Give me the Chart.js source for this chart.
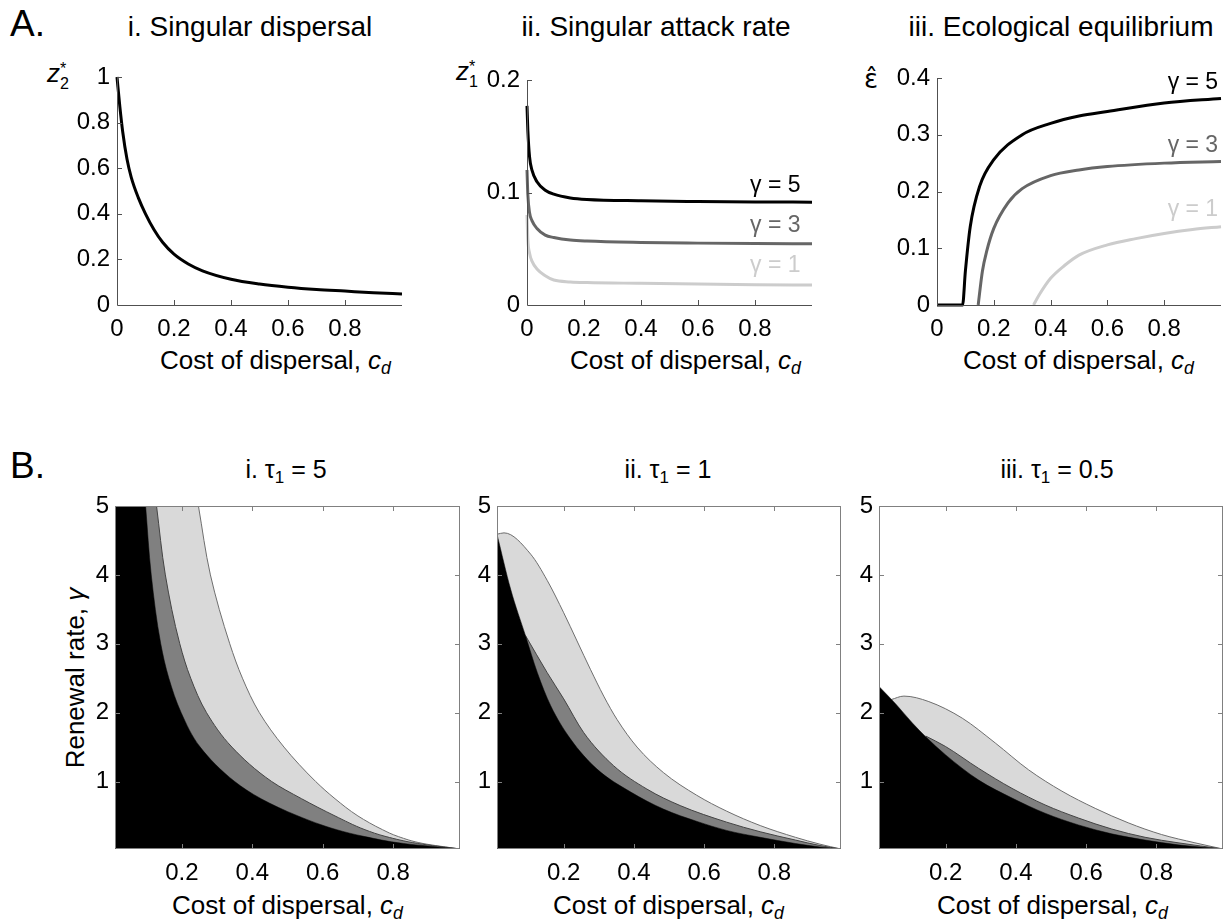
<!DOCTYPE html>
<html>
<head>
<meta charset="utf-8">
<script src="https://cdn.jsdelivr.net/npm/chart.js@4.4.0/dist/chart.umd.min.js"></script>
<style>
    body { margin: 0; width: 1225px; height: 923px; overflow: hidden; position: relative; background: #fff; font-family: "Liberation Sans", Arial, sans-serif; color: #000; }
    canvas { position: absolute; }
    .txt { position: absolute; white-space: nowrap; line-height: 1; }
    .big { font-size: 37px; }
    .titA { font-size: 28px; transform: translateX(-50%); }
    .titB { font-size: 25px; transform: translateX(-50%); }
    .xlab { font-size: 26px; }
    .ylab { font-size: 26px; }
    .sub { font-size: 0.68em; position: relative; top: 0.3em; }
    .stack { display: inline-block; font-size: 0.62em; font-style: normal; line-height: 0.95; vertical-align: -0.45em; }
    .stack span { display: block; }
</style>
</head>
<body>

<div class="txt big" style="left:10px;top:5px">A.</div>
<div class="txt big" style="left:10px;top:447px">B.</div>

<div class="txt titA" style="left:250px;top:13px">i. Singular dispersal</div>
<div class="txt titA" style="left:656px;top:13px">ii. Singular attack rate</div>
<div class="txt titA" style="left:1061px;top:13px">iii. Ecological equilibrium</div>

<div class="txt titB" style="left:286px;top:457px">i. τ<span class="sub">1</span> = 5</div>
<div class="txt titB" style="left:668px;top:457px">ii. τ<span class="sub">1</span> = 1</div>
<div class="txt titB" style="left:1057px;top:457px">iii. τ<span class="sub">1</span> = 0.5</div>

<div class="txt ylab" style="left:47px;top:60px"><i>z</i><span class="stack"><span>*</span><span>2</span></span></div>
<div class="txt ylab" style="left:456px;top:58px"><i>z</i><span class="stack"><span>*</span><span>1</span></span></div>
<div class="txt ylab" style="left:864px;top:66px;font-family:'DejaVu Sans'">ε̂</div>

<div class="txt xlab" style="left:160px;top:347px">Cost of dispersal, <i>c</i><i class="sub">d</i></div>
<div class="txt xlab" style="left:570px;top:347px">Cost of dispersal, <i>c</i><i class="sub">d</i></div>
<div class="txt xlab" style="left:963px;top:347px">Cost of dispersal, <i>c</i><i class="sub">d</i></div>
<div class="txt xlab" style="left:172px;top:892px">Cost of dispersal, <i>c</i><i class="sub">d</i></div>
<div class="txt xlab" style="left:553px;top:892px">Cost of dispersal, <i>c</i><i class="sub">d</i></div>
<div class="txt xlab" style="left:937px;top:892px">Cost of dispersal, <i>c</i><i class="sub">d</i></div>

<div class="txt ylab" style="left:75px;top:678px;transform:translate(-50%,-50%) rotate(-90deg)">Renewal rate, <i>γ</i></div>

<canvas id="a1"></canvas>
<canvas id="a2"></canvas>
<canvas id="a3"></canvas>
<canvas id="b1"></canvas>
<canvas id="b2"></canvas>
<canvas id="b3"></canvas>

<script>
// A.i singular dispersal z2* against cost of dispersal
const cdA1 = [0, 0.01, 0.02, 0.035, 0.05, 0.075, 0.1, 0.13, 0.16, 0.2, 0.25, 0.3, 0.4, 0.5, 0.6, 0.7, 0.8, 0.9, 1];
const z2 = [1, 0.87, 0.76, 0.64, 0.56, 0.47, 0.4, 0.33, 0.275, 0.223, 0.18, 0.15, 0.113, 0.092, 0.078, 0.068, 0.061, 0.054, 0.048];

// A.ii singular attack rate z1*
const cdA2 = [0, 0.003, 0.009, 0.0174, 0.035, 0.064, 0.094, 0.152, 0.21, 0.4, 0.6, 0.8, 1];
const z1g5 = [0.177, 0.155, 0.1316, 0.1198, 0.1095, 0.102, 0.0985, 0.0952, 0.0938, 0.0926, 0.092, 0.0916, 0.0914];
const z1g3 = [0.12, 0.098, 0.082, 0.075, 0.068, 0.0621, 0.06, 0.0577, 0.0568, 0.0556, 0.055, 0.0546, 0.0544];
const z1g1 = [0.08, 0.058, 0.046, 0.039, 0.032, 0.026, 0.0222, 0.0205, 0.0199, 0.0193, 0.0187, 0.0181, 0.0177];

// A.iii ecological equilibrium (only gamma = 5 is drawn along zero)
const cdA3g5 = [0, 0.09, 0.1, 0.117, 0.15, 0.2, 0.3, 0.4, 0.5, 0.6, 0.8, 1];
const epsG5 = [0, 0, 0.06, 0.138, 0.209, 0.256, 0.3, 0.32, 0.333, 0.341, 0.356, 0.364];
const cdA3g3 = [0.145, 0.16, 0.175, 0.2, 0.25, 0.3, 0.4, 0.5, 0.6, 0.8, 1];
const epsG3 = [0, 0.06, 0.095, 0.135, 0.18, 0.205, 0.228, 0.238, 0.244, 0.25, 0.253];
const cdA3g1 = [0.34, 0.36, 0.4, 0.45, 0.5, 0.6, 0.7, 0.8, 0.9, 1];
const epsG1 = [0, 0.018, 0.047, 0.07, 0.088, 0.106, 0.117, 0.126, 0.133, 0.138];

const gammaNames = ['γ = 5', 'γ = 3', 'γ = 1'];
const gammaColors = ['#000000', '#666666', '#cccccc'];
const tagYA2 = [0.1005, 0.065, 0.0295];
const tagYA3 = [0.38, 0.27, 0.157];

// B.i tau1 = 5, boundaries read as cost at each renewal rate
const gammaB1 = [5, 4, 3, 2.5, 2, 1.5, 1, 0.75, 0.5, 0.3, 0.2, 0.1, 0.02];
const cdB1black = [0.097, 0.113, 0.14, 0.163, 0.198, 0.252, 0.35, 0.425, 0.53, 0.64, 0.72, 0.83, 0.99];
const cdB1dark = [0.128, 0.153, 0.194, 0.225, 0.27, 0.342, 0.455, 0.54, 0.635, 0.72, 0.78, 0.87, 0.99];
const cdB1light = [0.247, 0.281, 0.336, 0.372, 0.42, 0.49, 0.58, 0.635, 0.7, 0.77, 0.815, 0.885, 0.99];

// B.ii tau1 = 1
const cdB2black = [0.01, 0.049, 0.091, 0.125, 0.163, 0.219, 0.295, 0.39, 0.484, 0.58, 0.664, 0.76, 0.86, 0.93, 0.99];
const gB2black = [4.59, 3.79, 3.12, 2.58, 2.1, 1.62, 1.18, 0.85, 0.6, 0.42, 0.29, 0.19, 0.1, 0.05, 0.02];
const cdB2dark = [0.091, 0.153, 0.2, 0.257, 0.342, 0.437, 0.532, 0.664, 0.76, 0.86, 0.93, 0.99];
const gB2dark = [3.12, 2.58, 2.2, 1.71, 1.23, 0.89, 0.65, 0.41, 0.27, 0.15, 0.07, 0.02];
const cdB2light = [0.01, 0.03, 0.106, 0.153, 0.2, 0.238, 0.276, 0.314, 0.352, 0.409, 0.484, 0.579, 0.664, 0.76, 0.86, 0.93, 0.99];
const gB2light = [4.59, 4.61, 4.3, 3.92, 3.45, 3.04, 2.63, 2.24, 1.9, 1.5, 1.13, 0.8, 0.57, 0.36, 0.19, 0.09, 0.02];

// B.iii tau1 = 0.5
const cdB3black = [0.01, 0.057, 0.105, 0.143, 0.199, 0.294, 0.389, 0.483, 0.578, 0.673, 0.768, 0.862, 0.99];
const gB3black = [2.38, 2.13, 1.85, 1.65, 1.39, 1.02, 0.76, 0.54, 0.37, 0.24, 0.15, 0.08, 0.02];
const cdB3dark = [0.143, 0.199, 0.294, 0.389, 0.483, 0.578, 0.673, 0.768, 0.862, 0.99];
const gB3dark = [1.66, 1.51, 1.19, 0.9, 0.66, 0.47, 0.31, 0.19, 0.11, 0.02];
const cdB3light = [0.045, 0.081, 0.152, 0.247, 0.341, 0.436, 0.531, 0.626, 0.72, 0.815, 0.91, 0.99];
const gB3light = [2.19, 2.24, 2.16, 1.92, 1.56, 1.17, 0.86, 0.61, 0.4, 0.23, 0.11, 0.02];

// tick labels
const ticksCdA = [0, 0.2, 0.4, 0.6, 0.8];
const ticksZ2 = [0, 0.2, 0.4, 0.6, 0.8, 1];
const ticksZ1 = [0, 0.1, 0.2];
const ticksEps = [0, 0.1, 0.2, 0.3, 0.4];
const ticksCdB = [0.2, 0.4, 0.6, 0.8];
const ticksGamma = [1, 2, 3, 4, 5];

const pts = (xs, ys) => xs.map((x, i) => ({ x: x, y: ys[i] }));
const fmt = v => String(Math.round(v * 100) / 100);

// axes drawn by hand: ticks point inside the plot
const framePlugin = {
    id: 'frame',
    afterDatasetsDraw(chart) {
        const { ctx, chartArea: a, scales } = chart;
        const box = chart.options.plugins.frame.box;
        const L = 5;
        ctx.save();
        ctx.strokeStyle = box ? '#808080' : '#505050';
        ctx.lineWidth = 1;
        ctx.beginPath();
        if (box) {
            ctx.rect(Math.round(a.left) + 0.5, Math.round(a.top) + 0.5, Math.round(a.right - a.left) - 1, Math.round(a.bottom - a.top) - 1);
        } else {
            ctx.moveTo(Math.round(a.left) + 0.5, a.top);
            ctx.lineTo(Math.round(a.left) + 0.5, Math.round(a.bottom) + 0.5);
            ctx.lineTo(a.right, Math.round(a.bottom) + 0.5);
        }
        scales.x.ticks.forEach(t => {
            if (t.value <= scales.x.min) return;
            const px = Math.round(scales.x.getPixelForValue(t.value)) + 0.5;
            ctx.moveTo(px, a.bottom); ctx.lineTo(px, a.bottom - L);
            if (box) { ctx.moveTo(px, a.top); ctx.lineTo(px, a.top + L); }
        });
        scales.y.ticks.forEach(t => {
            if (t.value <= scales.y.min) return;
            const py = Math.round(scales.y.getPixelForValue(t.value)) + 0.5;
            ctx.moveTo(a.left, py); ctx.lineTo(a.left + L, py);
            if (box) { ctx.moveTo(a.right, py); ctx.lineTo(a.right - L, py); }
        });
        ctx.stroke();
        ctx.restore();
    }
};

function tagPlugin(xVal, yVals) {
    return {
        id: 'tags',
        afterDatasetsDraw(chart) {
            const { ctx, scales } = chart;
            ctx.save();
            ctx.font = '23px "Liberation Sans", Arial, sans-serif';
            ctx.textAlign = 'right';
            ctx.textBaseline = 'alphabetic';
            gammaNames.forEach((name, i) => {
                ctx.fillStyle = gammaColors[i];
                ctx.fillText(name, scales.x.getPixelForValue(xVal), scales.y.getPixelForValue(yVals[i]));
            });
            ctx.restore();
        }
    };
}

function axis(min, max, tickVals, pad) {
    return {
        type: 'linear', min: min, max: max,
        grid: { display: false, drawTicks: false },
        border: { display: false },
        afterBuildTicks: s => { s.ticks = tickVals.map(v => ({ value: v })); },
        ticks: { padding: pad, color: '#000', font: { size: 24 }, callback: v => fmt(v) }
    };
}

// area: left, top, width, height of the plotting box on the page
function makePanel(id, area, xAx, yAx, datasets, box, plugins, indexAxis) {
    const mL = 62, mT = 25, mB = 45;
    const mR = Math.min(12, 1225 - (area.left + area.width));
    const cv = document.getElementById(id);
    cv.width = area.width + mL + mR;
    cv.height = area.height + mT + mB;
    cv.style.left = (area.left - mL) + 'px';
    cv.style.top = (area.top - mT) + 'px';
    xAx.afterFit = s => { s.height = mB; };
    yAx.afterFit = s => { s.width = mL; };
    new Chart(cv, {
        type: 'line',
        data: { datasets: datasets },
        options: {
            responsive: false,
            animation: false,
            indexAxis: indexAxis || 'x',
            layout: { padding: { left: 0, top: mT, right: mR, bottom: 0 } },
            elements: { point: { radius: 0 }, line: { cubicInterpolationMode: 'monotone' } },
            scales: { x: xAx, y: yAx },
            plugins: { legend: { display: false }, tooltip: { enabled: false }, frame: { box: box } }
        },
        plugins: [framePlugin].concat(plugins || [])
    });
}

function curve(data, color) {
    return { data: data, borderColor: color, borderWidth: 3, fill: false, clip: 6 };
}

function region(data, fillColor, lineColor, width) {
    return { data: data, backgroundColor: fillColor, borderColor: lineColor, borderWidth: width, fill: 'origin' };
}

// Panel A
makePanel('a1', { left: 117, top: 77, width: 285, height: 228 },
    axis(0, 1, ticksCdA, 10), axis(0, 1, ticksZ2, 7),
    [curve(pts(cdA1, z2), '#000')], false);

makePanel('a2', { left: 527, top: 80, width: 285, height: 225 },
    axis(0, 1, ticksCdA, 10), axis(0, 0.2, ticksZ1, 7),
    [curve(pts(cdA2, z1g5), gammaColors[0]), curve(pts(cdA2, z1g3), gammaColors[1]), curve(pts(cdA2, z1g1), gammaColors[2])],
    false, [tagPlugin(0.96, tagYA2)]);

makePanel('a3', { left: 937, top: 78, width: 284, height: 227 },
    axis(0, 1, ticksCdA, 10), axis(0, 0.4, ticksEps, 7),
    [curve(pts(cdA3g5, epsG5), gammaColors[0]), curve(pts(cdA3g3, epsG3), gammaColors[1]), curve(pts(cdA3g1, epsG1), gammaColors[2])],
    false, [tagPlugin(0.99, tagYA3)]);

// Panel B
const BLACK = '#000000', DARK = '#808080', LIGHT = '#d9d9d9';

makePanel('b1', { left: 115, top: 506, width: 345, height: 343 },
    axis(0.01, 0.99, ticksCdB, 10), axis(0.02, 5, ticksGamma, 6),
    [region(pts(cdB1black, gammaB1), BLACK, BLACK, 0.5),
     region(pts(cdB1dark, gammaB1), DARK, '#444444', 1),
     region(pts(cdB1light, gammaB1), LIGHT, '#6e6e6e', 1)],
    true, [], 'y');

makePanel('b2', { left: 497, top: 506, width: 344, height: 343 },
    axis(0.01, 0.99, ticksCdB, 10), axis(0.02, 5, ticksGamma, 6),
    [region(pts(cdB2black, gB2black), BLACK, BLACK, 0.5),
     region(pts(cdB2dark, gB2dark), DARK, '#444444', 1),
     region(pts(cdB2light, gB2light), LIGHT, '#6e6e6e', 1)],
    true);

makePanel('b3', { left: 879, top: 506, width: 344, height: 343 },
    axis(0.01, 0.99, ticksCdB, 10), axis(0.02, 5, ticksGamma, 6),
    [region(pts(cdB3black, gB3black), BLACK, BLACK, 0.5),
     region(pts(cdB3dark, gB3dark), DARK, '#444444', 1),
     region(pts(cdB3light, gB3light), LIGHT, '#6e6e6e', 1)],
    true);
</script>
</body>
</html>
